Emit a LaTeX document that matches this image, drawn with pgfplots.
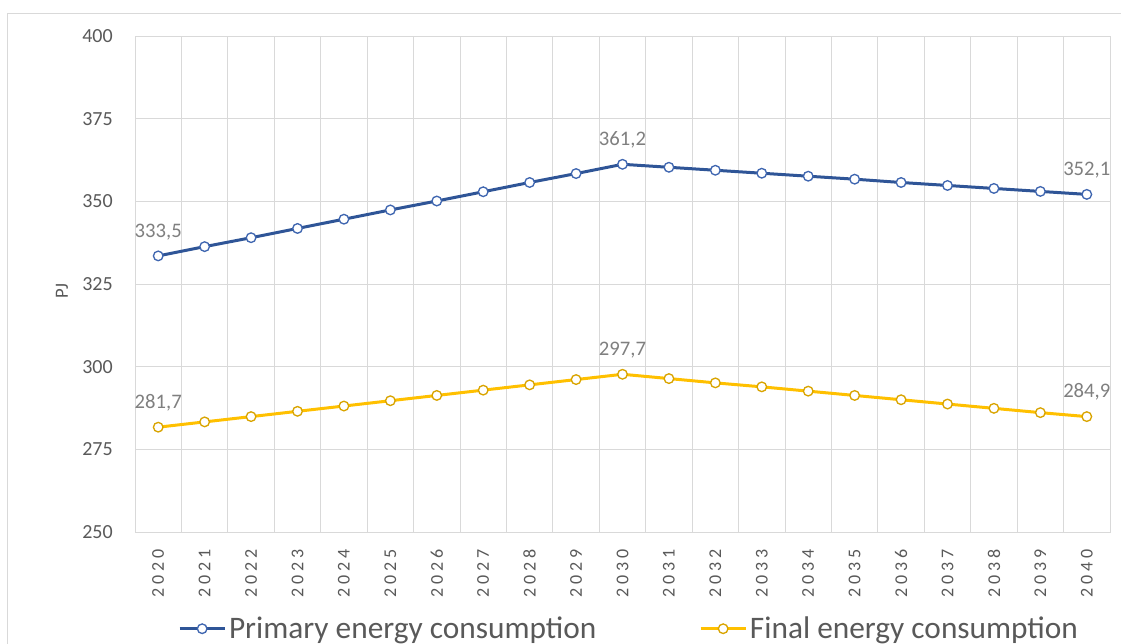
\documentclass[border=0pt]{standalone}
\usepackage{fontspec}
\setmainfont{Carlito}
\newfontfamily\spaced[LetterSpace=22]{Carlito}
\usepackage{pgfplots}
\pgfplotsset{compat=1.18}
\definecolor{primblue}{HTML}{2F5597}
\definecolor{primedge}{HTML}{3F66B0}
\definecolor{finyellow}{HTML}{FFC000}
\definecolor{finedge}{HTML}{D9A400}
\definecolor{gridgray}{HTML}{D9D9D9}
\definecolor{tickgray}{HTML}{595959}
\definecolor{labelgray}{HTML}{7F7F7F}

\begin{document}
\begin{tikzpicture}
  \useasboundingbox (0pt,0pt) rectangle (840.75pt,-482.25pt);
  \draw[gridgray, line width=0.75pt] (5.25pt,-490pt) -- (5.25pt,-9.75pt) -- (850pt,-9.75pt);
  \begin{axis}[
    at={(101.25pt,-399pt)}, anchor=south west,
    scale only axis, width=731.25pt, height=372pt,
    xmin=-0.5, xmax=20.5, ymin=250, ymax=400,
    ytick={250,275,...,400},
    xtick={0,...,20},
    xticklabels={2020,2021,2022,2023,2024,2025,2026,2027,2028,2029,2030,
                 2031,2032,2033,2034,2035,2036,2037,2038,2039,2040},
    minor xtick={-0.5,0.5,...,20.5},
    xminorgrids, ymajorgrids,
    grid style={gridgray, line width=0.75pt},
    minor grid style={gridgray, line width=0.75pt},
    major tick length=0pt, minor tick length=0pt,
    axis line style={gridgray, line width=0.75pt},
    /pgf/number format/assume math mode=true,
    ticklabel style={text=tickgray},
    yticklabel style={font=\fontsize{15}{18}\selectfont, inner sep=0pt, xshift=-16.5pt},
    xticklabel style={font=\spaced\fontsize{13.5}{16}\selectfont, inner sep=0pt, yshift=-13pt, rotate=90, anchor=east},
    ylabel={PJ},
    ylabel style={font=\fontsize{14}{16}\selectfont, text=tickgray, at={(axis description cs:-0.075,0.486)}, anchor=center},
    legend columns=2,
    legend style={at={(0.507,-0.195)}, anchor=center, draw=none, fill=none,
      font=\fontsize{23.5}{28}\selectfont, text=tickgray,
      /tikz/every even column/.append style={column sep=75pt}},
    legend image code/.code={
      \draw[mark repeat=2, mark phase=2] plot coordinates {(0pt,0pt) (17pt,0pt) (34pt,0pt)};},
  ]
    \addplot[primblue, line width=2.25pt, mark=*, mark size=3.6pt,
      mark options={fill=white, draw=primedge, line width=1pt}] coordinates {
      (0,333.5) (1,336.3) (2,339.0) (3,341.8) (4,344.6) (5,347.4) (6,350.1)
      (7,352.9) (8,355.7) (9,358.4) (10,361.2) (11,360.3) (12,359.4) (13,358.5)
      (14,357.6) (15,356.7) (16,355.7) (17,354.8) (18,353.9) (19,353.0) (20,352.1)
    };
    \addlegendentry{Primary energy consumption}
    \addplot[finyellow, line width=2.25pt, mark=*, mark size=3.6pt,
      mark options={fill=white, draw=finedge, line width=1pt}] coordinates {
      (0,281.7) (1,283.3) (2,284.9) (3,286.5) (4,288.1) (5,289.7) (6,291.3)
      (7,292.9) (8,294.5) (9,296.1) (10,297.7) (11,296.4) (12,295.1) (13,293.9)
      (14,292.6) (15,291.3) (16,290.0) (17,288.7) (18,287.4) (19,286.1) (20,284.9)
    };
    \addlegendentry{Final energy consumption}
    % data labels for first, peak and last values
    \addplot[draw=none, mark=none, forget plot, nodes near coords,
      point meta=explicit symbolic,
      nodes near coords style={font=\fontsize{15.5}{18}\selectfont, text=labelgray,
        anchor=base, inner sep=0pt, yshift=14pt}] coordinates {
      (0,333.5) [333,5] (10,361.2) [361,2] (20,352.1) [352,1]
      (0,281.7) [281,7] (10,297.7) [297,7] (20,284.9) [284,9]
    };
  \end{axis}
\end{tikzpicture}
\end{document}
